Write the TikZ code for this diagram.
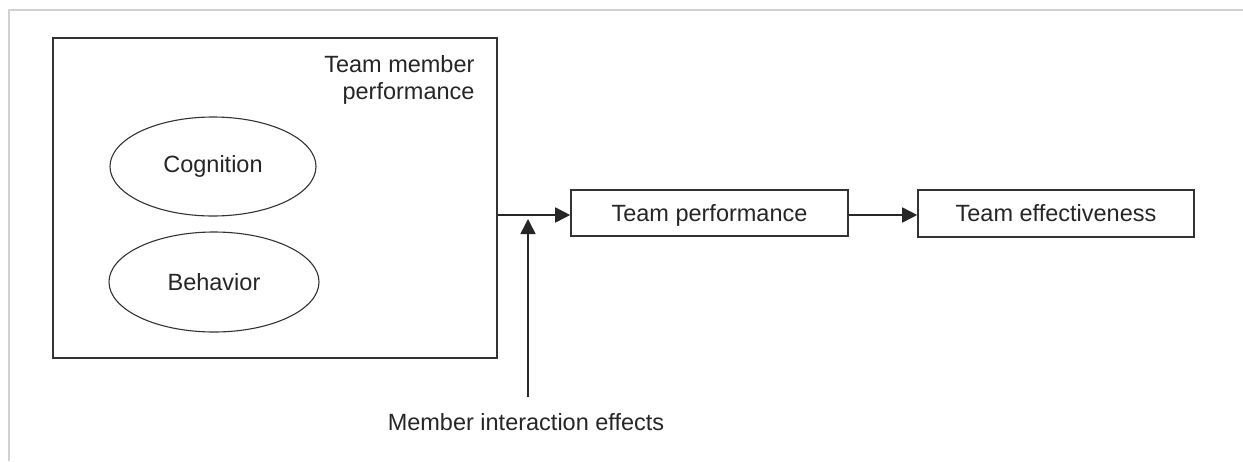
\documentclass[tikz,border=0pt]{standalone}
\usepackage{fontspec}
\setmainfont{Liberation Sans}
\usetikzlibrary{shapes.geometric,arrows.meta}
\begin{document}
\begin{tikzpicture}[x=1pt,y=-1pt,
  every node/.style={font=\fontsize{23.5}{27}\selectfont, text=black!85},
  ell/.style={ellipse, draw=black!80, line width=1.1pt, inner sep=0pt},
  rbox/.style={rectangle, draw=black!80, line width=1.6pt, inner sep=0pt},
  ctext/.style={text height=16.5pt, text depth=0pt},
  conn/.style={draw=black!85, line width=1.6pt, -{Triangle[length=15pt,width=15pt]}},
  frameline/.style={draw=black!18, line width=1.5pt}]
\useasboundingbox (0,0) rectangle (1243,461);
\fill[white] (0,0) rectangle (1243,461);
% faint outer frame
\coordinate (f1) at (9,461);
\coordinate (f2) at (9,10);
\coordinate (f3) at (1243,10);
\draw[frameline] (f1) -- (f2) -- (f3);
% big box
\node[rbox, minimum width=444pt, minimum height=320pt] (tmp) at (275,198) {};
\node[align=right, anchor=east] (tmplabel) at (478,79.5) {Team member\\performance};
\node[ell, minimum width=206pt, minimum height=99pt] (cog) at (213,166.5) {Cognition};
\node[ell, minimum width=210pt, minimum height=100pt] (beh) at (214,282) {Behavior};
% boxes
\node[rbox, ctext, minimum width=277pt, minimum height=46pt] (tp) at (709.5,213) {Team performance};
\node[rbox, ctext, minimum width=276pt, minimum height=47pt] (te) at (1056,213.5) {Team effectiveness};
% member interaction
\node (mie) at (526,422) {Member interaction effects};
\coordinate (junc) at (528,215);
\coordinate (src) at (tmp.east |- junc);
\coordinate (mtop) at (528,397);
\coordinate (mtip) at (528,219);
\draw[conn] (src) -- (tp.west |- junc);
\draw[conn] (mtop) -- (mtip);
\draw[conn] (tp.east |- 0,215) -- (te.west |- 0,215);
\end{tikzpicture}
\end{document}
